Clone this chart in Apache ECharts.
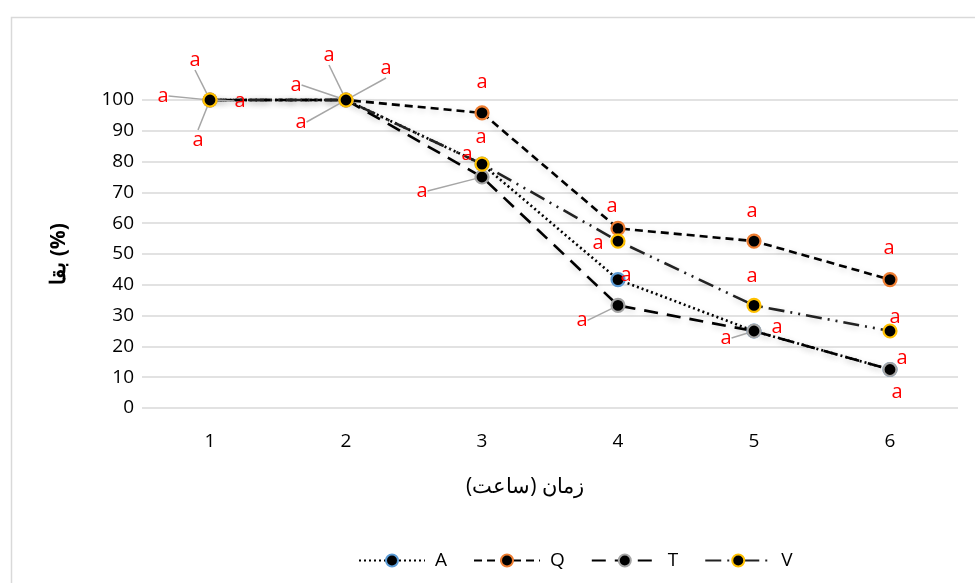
<!DOCTYPE html>
<html>
<head>
<meta charset="utf-8">
<script src="https://cdn.jsdelivr.net/npm/echarts@6/dist/echarts.min.js"></script>
<style>
  html, body { margin: 0; padding: 0; background: #ffffff; }
  #chart { width: 975px; height: 583px; }
</style>
</head>
<body>
<div id="chart"></div>
<script>
// Time in hours (x axis categories)
const hours = ['1', '2', '3', '4', '5', '6'];

// Survival percentage for each treatment
const survivalA = [100, 100, 79.2, 41.7, 25, 12.5];
const survivalQ = [100, 100, 95.8, 58.3, 54.2, 41.7];
const survivalT = [100, 100, 75, 33.3, 25, 12.5];
const survivalV = [100, 100, 79.2, 54.2, 33.3, 25];

// Significance letters shown next to each point
const lettersA = ['a', 'a', 'a', 'a', 'a', 'a'];
const lettersQ = ['a', 'a', 'a', 'a', 'a', 'a'];
const lettersT = ['a', 'a', 'a', 'a', 'a', 'a'];
const lettersV = ['a', 'a', 'a', 'a', 'a', 'a'];

const yTicks = [0, 10, 20, 30, 40, 50, 60, 70, 80, 90, 100];

// Label placement (offset from the point) and whether a leader line is drawn
const labelPlacement = {
  A: { shift: [[-15, -40], [-17, -45], [-1, -27], [8, -4], [23, -4], [12, -11]], guide: [1, 1, 0, 0, 0, 0] },
  Q: { shift: [[30, 1], [40, -32], [0, -31], [-6, -22], [-2, -30], [-1, -31]], guide: [1, 1, 0, 0, 0, 0] },
  T: { shift: [[-47, -4], [-50, -15], [-60, 14], [-36, 15], [-28, 7], [7, 23]], guide: [1, 1, 1, 1, 1, 0] },
  V: { shift: [[-12, 40], [-45, 22], [-15, -10], [-20, 2], [-2, -29], [5, -14]], guide: [1, 1, 0, 0, 0, 0] }
};

function buildSeries(name, values, letters, border, lineType, lineColor) {
  const place = labelPlacement[name];
  return {
    name: name,
    type: 'line',
    clip: false,
    symbol: 'circle',
    symbolSize: 13,
    z: 3,
    itemStyle: { color: '#000000', borderColor: border, borderWidth: 2.2 },
    lineStyle: {
      color: lineColor, width: 2.6, type: lineType, cap: 'butt',
      shadowColor: 'rgba(0,0,0,0.18)', shadowBlur: 6, shadowOffsetY: 2
    },
    label: {
      show: true, position: 'inside',
      color: '#ff0000', fontSize: 20, fontFamily: 'Open Sans',
      formatter: (p) => letters[p.dataIndex]
    },
    labelLine: { show: false, lineStyle: { color: '#a6a6a6', width: 1.5 } },
    labelLayout: (p) => ({ dx: place.shift[p.dataIndex][0], dy: place.shift[p.dataIndex][1] }),
    emphasis: { disabled: true },
    data: values.map((v, i) => ({
      value: v,
      labelLine: { show: !!place.guide[i] }
    }))
  };
}

const chart = echarts.init(document.getElementById('chart'), null, { renderer: 'canvas' });

chart.setOption({
  animation: false,
  backgroundColor: '#ffffff',
  textStyle: { fontFamily: 'Open Sans' },
  graphic: [{
    type: 'rect', left: 9, top: 15, silent: true,
    shape: { width: 1000, height: 600 },
    style: { fill: 'none', stroke: '#d9d9d9', lineWidth: 1.5 }
  }],
  grid: { left: 142, right: 17, top: 100, bottom: 175 },
  legend: {
    bottom: 8,
    left: 353,
    itemWidth: 66,
    itemHeight: 15,
    itemGap: 26,
    textStyle: { fontSize: 19, color: '#000000', fontFamily: 'Open Sans', padding: [0, 0, 0, 5] },
    data: ['A', 'Q', 'T', 'V']
  },
  xAxis: {
    type: 'category',
    data: hours,
    boundaryGap: true,
    axisLine: { show: false },
    axisTick: { show: false },
    axisLabel: { color: '#000000', fontSize: 19, margin: 24 },
    name: 'زمان (ساعت)',
    nameLocation: 'middle',
    nameGap: 69,
    nameTextStyle: { fontSize: 21, color: '#000000', padding: [0, 50, 0, 0] }
  },
  yAxis: {
    type: 'value',
    min: yTicks[0],
    max: yTicks[yTicks.length - 1],
    interval: 10,
    axisLine: { show: false },
    axisTick: { show: false },
    axisLabel: { color: '#000000', fontSize: 19, margin: 8 },
    splitLine: { lineStyle: { color: '#d9d9d9', width: 1.5 } },
    name: 'بقا (%)',
    nameLocation: 'middle',
    nameRotate: 90,
    nameGap: 72,
    nameTextStyle: { fontSize: 21, fontWeight: 'bold', color: '#000000' }
  },
  series: [
    buildSeries('A', survivalA, lettersA, '#5b9bd5', [2, 3], '#000000'),
    buildSeries('Q', survivalQ, lettersQ, '#ed7d31', [8, 5], '#000000'),
    buildSeries('T', survivalT, lettersT, '#a5a5a5', [14, 9], '#000000'),
    buildSeries('V', survivalV, lettersV, '#ffc000', [16, 6, 2, 6, 2, 6], '#222222')
  ]
});
</script>
</body>
</html>
